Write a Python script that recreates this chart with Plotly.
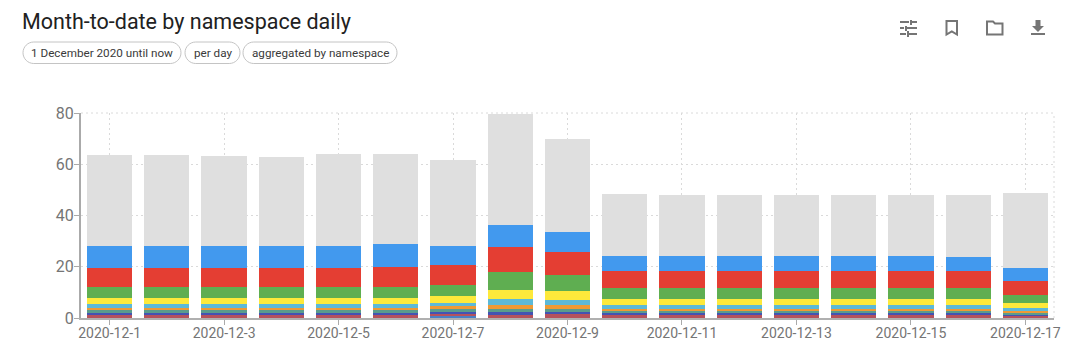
import plotly.graph_objects as go

W, H = 1074, 356
L, R, T, B = 81, 20, 113, 38

days = [f"2020-12-{d}" for d in range(1, 18)]
tick_days = days[::2]

slate  = [0, 0, 0, 0, 0, 0, 0.9, 0, 0, 0, 0, 0, 0, 0, 0, 0, 0]
brown  = [1.2, 1.2, 1.2, 1.2, 1.2, 1.2, 0.8, 1.3, 1.4, 1.3, 1.3, 1.3, 1.3, 1.3, 1.3, 1.3, 0.8]
indigo = [0.9, 0.9, 0.9, 0.9, 0.9, 0.9, 0.7, 1.0, 0.9, 0.8, 0.8, 0.8, 0.8, 0.8, 0.8, 0.8, 0.6]
teal   = [0.9, 0.9, 0.9, 0.9, 0.9, 0.9, 1.1, 1.3, 1.1, 0.8, 0.8, 0.8, 0.8, 0.8, 0.8, 0.8, 0.7]
orange = [1.0, 1.0, 1.0, 1.0, 1.0, 1.0, 1.0, 1.6, 1.5, 0.7, 0.7, 0.7, 0.7, 0.7, 0.7, 0.7, 0.8]
sky    = [1.3, 1.3, 1.3, 1.3, 1.3, 1.3, 1.5, 2.3, 2.1, 1.3, 1.3, 1.3, 1.3, 1.3, 1.3, 1.3, 1.1]
yellow = [2.4, 2.4, 2.4, 2.4, 2.4, 2.4, 2.6, 3.6, 3.5, 2.4, 2.4, 2.4, 2.4, 2.4, 2.4, 2.4, 1.8]
green  = [4.5, 4.5, 4.5, 4.4, 4.5, 4.5, 4.3, 6.8, 6.4, 4.4, 4.4, 4.4, 4.4, 4.4, 4.4, 4.4, 3.3]
red    = [7.4, 7.4, 7.4, 7.4, 7.4, 7.8, 7.9, 9.7, 8.8, 6.7, 6.7, 6.7, 6.7, 6.7, 6.7, 6.7, 5.3]
blue   = [8.5, 8.5, 8.5, 8.6, 8.5, 8.8, 7.3, 8.5, 8.0, 5.7, 5.7, 5.7, 5.7, 5.7, 5.7, 5.5, 5.0]
gray   = [35.5, 35.7, 35.1, 34.9, 35.8, 35.3, 33.4, 43.4, 36.0, 24.1, 23.9, 23.9, 23.9, 23.9, 23.9, 24.1, 29.3]

series = [
    ("slate", slate, "#4a7fc4"), ("brown", brown, "#b5525c"), ("indigo", indigo, "#4353b3"),
    ("teal", teal, "#5a9c8c"), ("orange", orange, "#ee9a35"), ("sky", sky, "#5cb9d8"),
    ("yellow", yellow, "#fde93b"), ("green", green, "#5fae51"), ("red", red, "#e43e33"),
    ("blue", blue, "#4299ee"), ("gray", gray, "#dfdfdf"),
]

title_text = "Month-to-date by namespace daily"
pills = [("1 December 2020 until now", 23, 181), ("per day", 185, 240), ("aggregated by namespace", 243, 397)]

PW, PH = W - L - R, H - T - B
def px(x): return (x - L) / PW
def py(y): return 1 - (y - T) / PH
def path(points, close=True):
    s = "M" + " L".join(f"{px(x):.5f},{py(y):.5f}" for x, y in points)
    return s + (" Z" if close else "")

def pill_path(x0, x1, y0, y1):
    r = (y1 - y0) / 2
    k = r * 0.55
    ym = (y0 + y1) / 2
    def p(x, y): return f"{px(x):.5f},{py(y):.5f}"
    return (f"M{p(x0 + r, y0)} L{p(x1 - r, y0)} C{p(x1 - r + k, y0)} {p(x1, ym - k)} {p(x1, ym)} "
            f"C{p(x1, ym + k)} {p(x1 - r + k, y1)} {p(x1 - r, y1)} L{p(x0 + r, y1)} "
            f"C{p(x0 + r - k, y1)} {p(x0, ym + k)} {p(x0, ym)} C{p(x0, ym - k)} {p(x0 + r - k, y0)} {p(x0 + r, y0)} Z")

fig = go.Figure()
for name, vals, color in series:
    fig.add_bar(x=days, y=vals, name=name, marker=dict(color=color, line=dict(width=0)))

shapes = []
GRID = dict(color="#dadada", width=1, dash="2px,3px")
shapes.append(dict(type="line", xref="paper", yref="paper", x0=1, x1=1, y0=0, y1=1, line=GRID, layer="below"))
shapes.append(dict(type="line", xref="paper", yref="paper", x0=0, x1=1, y0=1, y1=1, line=GRID, layer="below"))
for _, x0, x1 in pills:
    shapes.append(dict(type="path", xref="paper", yref="paper", path=pill_path(x0, x1, 42, 63.5),
                       line=dict(color="#c4c4c4", width=1), fillcolor="white"))

ICON = "#757575"
def rect(x0, y0, x1, y1):
    shapes.append(dict(type="path", xref="paper", yref="paper",
                       path=path([(x0, y0), (x1, y0), (x1, y1), (x0, y1)]),
                       line=dict(width=0), fillcolor=ICON))
def outline(points):
    shapes.append(dict(type="path", xref="paper", yref="paper", path=path(points),
                       line=dict(color=ICON, width=2), fillcolor="rgba(0,0,0,0)"))
# tune icon
rect(900, 21, 909, 23); rect(912, 21, 917, 23); rect(910, 20, 912, 25)
rect(900, 27, 904, 29); rect(907, 27, 917, 29); rect(905, 26, 907, 31)
rect(900, 33, 906, 35); rect(909, 33, 917, 35); rect(907, 31, 909, 37)
# bookmark
outline([(946.5, 21), (957, 21), (957, 34.5), (951.8, 31.5), (946.5, 34.5)])
# folder
outline([(987, 21.5), (993, 21.5), (995, 23.5), (1002.5, 23.5), (1002.5, 34.5), (987, 34.5)])
# download
shapes.append(dict(type="path", xref="paper", yref="paper",
                   path=path([(1035.5, 20), (1040.5, 20), (1040.5, 26), (1044, 26), (1038, 32), (1032, 26), (1035.5, 26)]),
                   line=dict(width=0), fillcolor=ICON))
rect(1031, 33, 1045, 35)

annotations = [dict(text=title_text, xref="paper", yref="paper", x=px(20), y=py(21), xanchor="left", yanchor="middle",
                    showarrow=False, font=dict(family="Roboto", size=21.5, color="#212121"))]
for label, x0, x1 in pills:
    annotations.append(dict(text=label, xref="paper", yref="paper", x=px((x0 + x1) / 2), y=py(53),
                            xanchor="center", yanchor="middle", showarrow=False,
                            font=dict(family="Roboto", size=11.7, color="#3a3a3a")))

fig.update_layout(
    width=W, height=H, barmode="stack", bargap=0.21, showlegend=False,
    margin=dict(l=L, r=R, t=T, b=B, autoexpand=False),
    paper_bgcolor="white", plot_bgcolor="white",
    font=dict(family="Roboto", size=14, color="#757575"),
    shapes=shapes, annotations=annotations,
    xaxis=dict(type="category", categoryorder="array", categoryarray=days, tickmode="array", tickvals=tick_days,
               ticktext=tick_days, tickangle=0, showgrid=True, griddash="2px,3px", gridcolor="#dadada", gridwidth=1,
               showline=True, linecolor="#b0b0b0", linewidth=2, ticks="outside", ticklen=5, tickcolor="#aaaaaa",
               tickfont=dict(size=14, color="#757575"), zeroline=False, ticklabelstandoff=-4),
    yaxis=dict(range=[0, 80], tickmode="array", tickvals=[0, 20, 40, 60, 80], showgrid=True, griddash="2px,3px",
               gridcolor="#dadada", gridwidth=1, showline=True, linecolor="#aaaaaa", linewidth=2, ticks="outside",
               ticklen=5, tickcolor="#aaaaaa", tickfont=dict(size=16, color="#757575"), zeroline=False,
               ticklabelstandoff=-3),
)
fig.write_html("out.html", config=dict(displayModeBar=False), post_script="document.body.style.margin='0';")
